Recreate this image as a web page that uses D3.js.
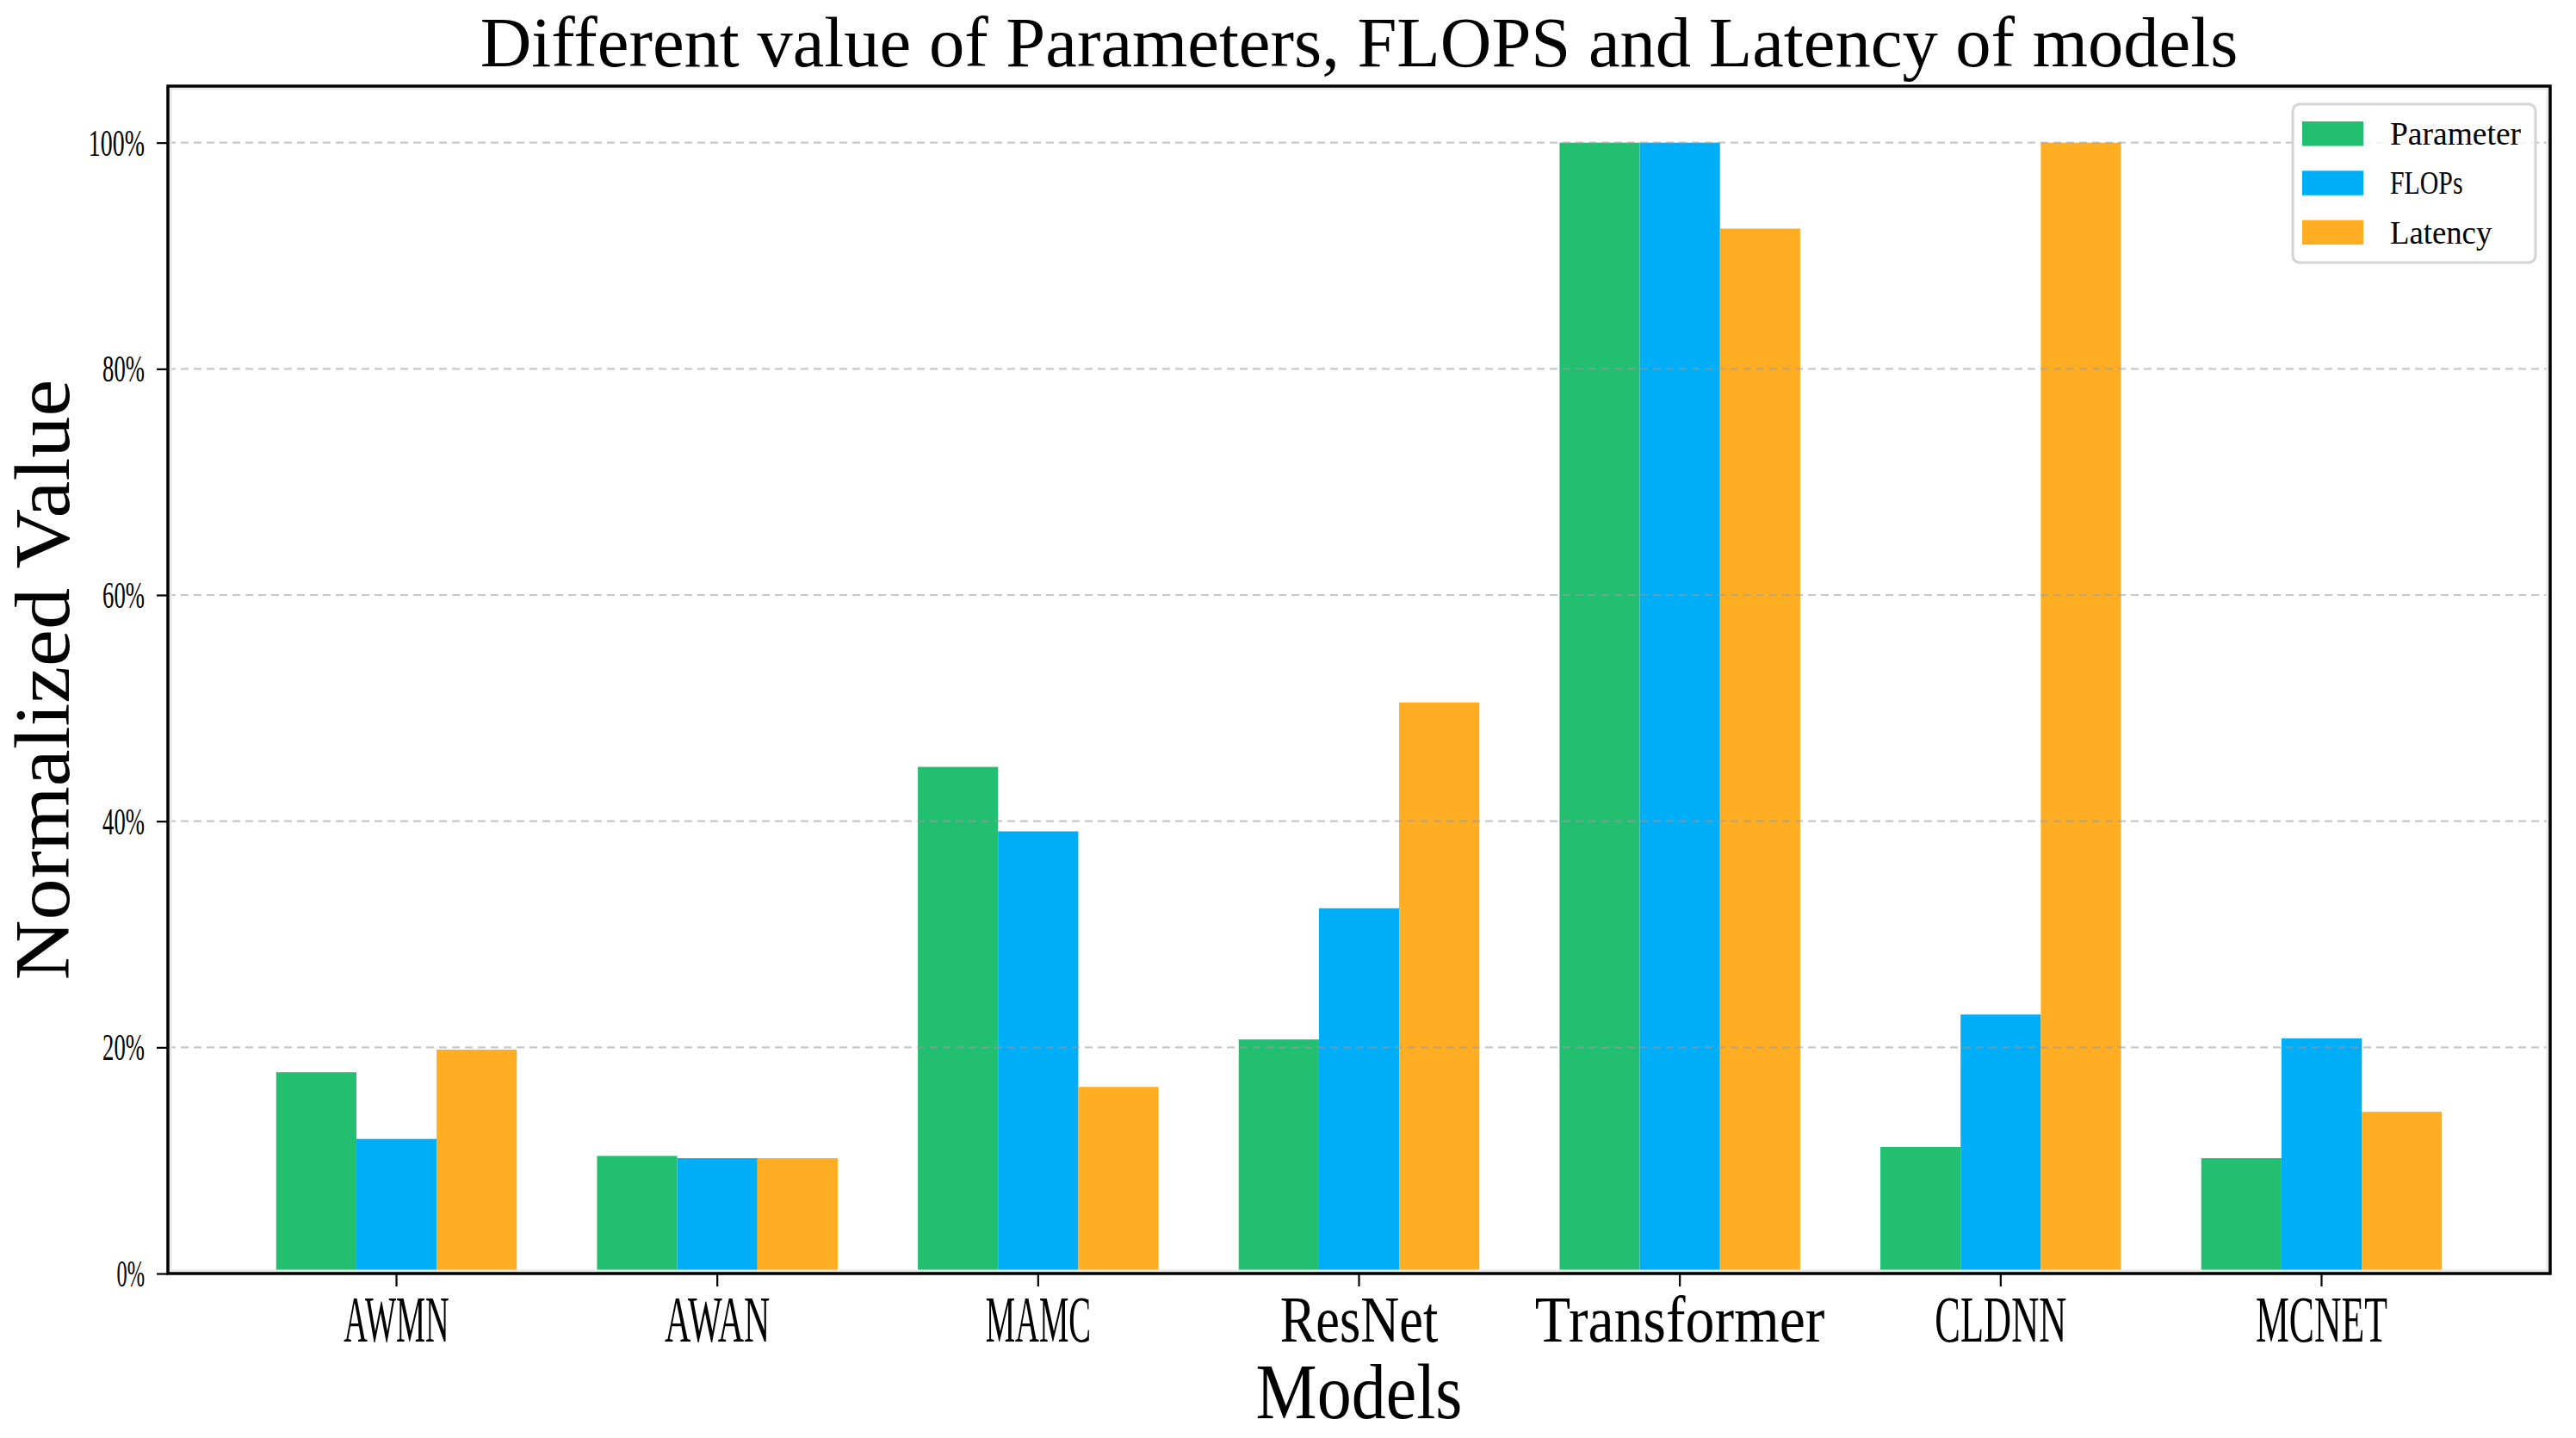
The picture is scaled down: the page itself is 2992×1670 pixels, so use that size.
<!DOCTYPE html>
<html lang="en">
<head>
    <meta charset="UTF-8"/>
    <title>Parameters, FLOPS and Latency</title>
    <script src="https://d3js.org/d3.v7.min.js"></script>
    <style>
        body {
            margin: 0;
            background: white;
        }

        text {
            font-family: "Liberation Serif", "DejaVu Serif", serif;
            fill: black;
        }
    </style>
</head>
<body>
<div id="chart"></div>

<script>
    const models = ["AWMN", "AWAN", "MAMC", "ResNet", "Transformer", "CLDNN", "MCNET"];
    const seriesNames = ["Parameter", "FLOPs", "Latency"];
    const seriesColors = ["#23BF70", "#00AEF7", "#FFAD22"];

    // normalized values, percent
    const parameterValues = [17.8, 10.4, 44.8, 20.7, 100, 11.2, 10.2];
    const flopsValues = [11.9, 10.2, 39.1, 32.3, 100, 22.9, 20.8];
    const latencyValues = [19.8, 10.2, 16.5, 50.5, 92.4, 100, 14.3];

    const yTicks = [0, 20, 40, 60, 80, 100];

    const width = 2992;
    const height = 1670;
    const margin = {top: 100, right: 30, bottom: 191, left: 195};
    const plotW = width - margin.left - margin.right;
    const plotH = height - margin.top - margin.bottom;

    const allSeries = [parameterValues, flopsValues, latencyValues];
    const rows = models.map((m, i) => ({
        model: m,
        values: seriesNames.map((s, j) => ({key: s, value: allSeries[j][i], color: seriesColors[j]}))
    }));

    // squeeze glyphs to the narrow, monospaced look of the original font
    function fit(sel, advance) {
        sel.attr("textLength", function () {
            return this.textContent.length * advance;
        }).attr("lengthAdjust", "spacingAndGlyphs");
        return sel;
    }

    const svg = d3.select("#chart")
        .append("svg")
        .attr("width", width)
        .attr("height", height);

    svg.append("rect")
        .attr("width", width)
        .attr("height", height)
        .attr("fill", "white");

    const g = svg.append("g").attr("transform", `translate(${margin.left}, ${margin.top})`);

    // Scales
    const xScale = d3.scaleBand()
        .domain(models)
        .range([0, plotW])
        .paddingInner(0.25)
        .paddingOuter(0.3375);
    const xInner = d3.scaleBand()
        .domain(seriesNames)
        .range([0, xScale.bandwidth()]);
    const yScale = d3.scaleLinear()
        .domain([0, 105])
        .range([plotH, 0]);

    // Bars
    const groups = g.selectAll(".group")
        .data(rows)
        .join("g")
        .attr("class", "group")
        .attr("transform", d => `translate(${xScale(d.model)}, 0)`);

    groups.selectAll("rect")
        .data(d => d.values)
        .join("rect")
        .attr("x", d => xInner(d.key))
        .attr("y", d => yScale(d.value))
        .attr("width", xInner.bandwidth())
        .attr("height", d => plotH - yScale(d.value))
        .attr("fill", d => d.color);

    // Grid lines (drawn over the bars)
    g.append("g")
        .selectAll("line")
        .data(yTicks.filter(t => t > 0))
        .join("line")
        .attr("x1", 0)
        .attr("x2", plotW)
        .attr("y1", d => yScale(d))
        .attr("y2", d => yScale(d))
        .attr("stroke", "#9a9a9a")
        .attr("stroke-opacity", 0.55)
        .attr("stroke-width", 2.2)
        .attr("stroke-dasharray", "9,6");

    // Y axis
    const yAxis = g.append("g")
        .call(d3.axisLeft(yScale)
            .tickValues(yTicks)
            .tickSize(13)
            .tickPadding(14)
            .tickFormat(d => d + "%"));
    yAxis.select(".domain").remove();
    yAxis.selectAll("line").attr("stroke-width", 2.2);
    fit(yAxis.selectAll("text")
        .style("font-size", "44px")
        .attr("fill", "#222")
        .attr("dy", "0.33em"), 16.3);

    // X axis
    const xAxis = g.append("g")
        .attr("transform", `translate(0, ${plotH})`)
        .call(d3.axisBottom(xScale).tickSize(15));
    xAxis.select(".domain").remove();
    xAxis.selectAll("line").attr("stroke-width", 2.2);
    fit(xAxis.selectAll("text")
        .style("font-size", "77px")
        .attr("y", 79)
        .attr("dy", 0), 30.6);

    // Frame
    g.append("rect")
        .attr("x", 3)
        .attr("y", 3)
        .attr("width", plotW - 6)
        .attr("height", plotH - 6)
        .attr("fill", "none")
        .attr("stroke", "#e8e8e8")
        .attr("stroke-width", 3);
    g.append("rect")
        .attr("width", plotW)
        .attr("height", plotH)
        .attr("fill", "none")
        .attr("stroke", "black")
        .attr("stroke-width", 3.5);

    // Title
    fit(svg.append("text")
        .attr("x", margin.left + plotW / 2)
        .attr("y", 77)
        .attr("text-anchor", "middle")
        .style("font-size", "83px")
        .text("Different value of Parameters, FLOPS and Latency of models"), 35.2);

    // Axis labels
    fit(svg.append("text")
        .attr("x", margin.left + plotW / 2)
        .attr("y", 1647)
        .attr("text-anchor", "middle")
        .style("font-size", "92px")
        .text("Models"), 40);

    fit(svg.append("text")
        .attr("transform", `translate(80, ${margin.top + plotH / 2}) rotate(-90)`)
        .attr("text-anchor", "middle")
        .style("font-size", "90px")
        .text("Normalized Value"), 43.6);

    // Legend
    const legend = svg.append("g").attr("transform", "translate(2663, 121)");
    legend.append("rect")
        .attr("width", 282)
        .attr("height", 184)
        .attr("rx", 8)
        .attr("fill", "white")
        .attr("fill-opacity", 0.8)
        .attr("stroke", "#d4d4d4")
        .attr("stroke-width", 3);

    const items = legend.selectAll(".item")
        .data(seriesNames)
        .join("g")
        .attr("class", "item")
        .attr("transform", (d, i) => `translate(11, ${20 + i * 57.3})`);
    items.append("rect")
        .attr("width", 71)
        .attr("height", 28.5)
        .attr("fill", (d, i) => seriesColors[i]);
    fit(items.append("text")
        .attr("x", 102)
        .attr("y", 27)
        .style("font-size", "38px")
        .attr("fill", "#222")
        .text(d => d), 16.9);
</script>

</body>
</html>
